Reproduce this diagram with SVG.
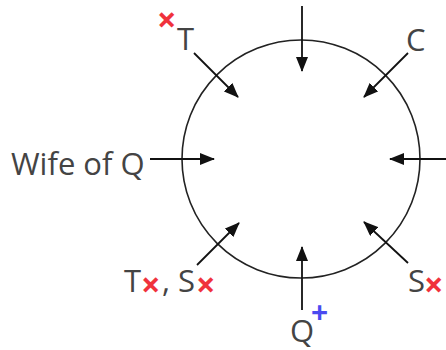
<svg xmlns="http://www.w3.org/2000/svg" width="446" height="350" viewBox="0 0 446 350">
<style>
.t{font-family:"Open Sans","Noto Sans",sans-serif;font-size:31px;fill:#444}
.x{font-family:"Open Sans","Noto Sans",sans-serif;font-size:34px;font-weight:bold;fill:#f0323c}
.p{font-family:"Open Sans","Noto Sans",sans-serif;font-size:30px;font-weight:bold;fill:#4a4af0}
.c{stroke:#111;stroke-width:1.8;fill:none;marker-end:url(#ah)}
</style>
<defs>
<marker id="ah" markerWidth="15" markerHeight="12" refX="14" refY="6" orient="auto" markerUnits="userSpaceOnUse" viewBox="0 0 15 12">
<path d="M0,0 L15,6 L0,12 Z" fill="#111"/>
</marker>
</defs>
<rect width="446" height="350" fill="#fff"/>
<g id="circle"><circle cx="301" cy="159" r="119" fill="none" stroke="#222" stroke-width="1.6"/></g>
<g id="connectors">
<line class="c" x1="302" y1="6" x2="302" y2="71"/>
<line class="c" x1="408" y1="53" x2="364" y2="97"/>
<line class="c" x1="194" y1="53" x2="238" y2="97"/>
<line class="c" x1="150" y1="159" x2="214" y2="159"/>
<line class="c" x1="446" y1="159" x2="390" y2="159"/>
<line class="c" x1="197" y1="265" x2="239" y2="223"/>
<line class="c" x1="408" y1="263" x2="364" y2="222"/>
<line class="c" x1="302" y1="310" x2="302" y2="247"/>
</g>
<g id="node-T"><text class="x" x="157" y="32">×</text><text class="t" x="177" y="50">T</text></g>
<g id="node-C"><text class="t" x="406" y="51">C</text></g>
<g id="node-wife"><text class="t" x="11" y="175">Wife of Q</text></g>
<g id="node-TS"><text class="t" x="124" y="292">T</text><text class="x" x="141" y="297">×</text><text class="t" x="162" y="292">, S</text><text class="x" x="196" y="297">×</text></g>
<g id="node-S"><text class="t" x="408" y="292">S</text><text class="x" x="424" y="297">×</text></g>
<g id="node-Q"><text class="t" x="290" y="342">Q</text><text class="p" x="311" y="323">+</text></g>
</svg>
